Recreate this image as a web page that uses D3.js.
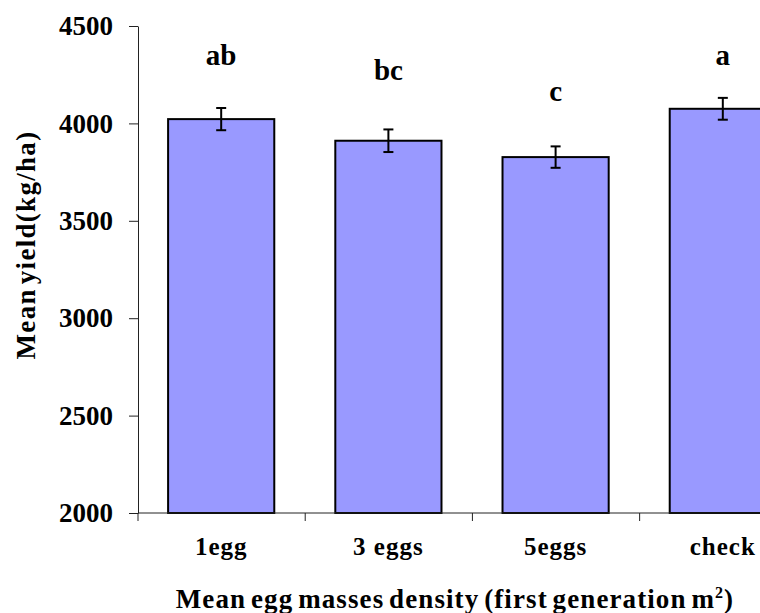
<!DOCTYPE html>
<html>
<head>
<style>
  body { margin: 0; background: #fff; }
  svg { display: block; }
  text { font-family: "Liberation Serif", "Times New Roman", serif; font-weight: bold; fill: #000; }
</style>
</head>
<body>
<svg width="760" height="613"></svg>
<script src="https://d3js.org/d3.v7.min.js"></script>
<script>
let categories = ["1egg", "3 eggs", "5eggs", "check"]
let means = [4022, 3911, 3827, 4075]
let errors = [57, 58, 55, 56]
let letters = ["ab", "bc", "c", "a"]
let letterY = [4300, 4225, 4115, 4300]
let yTicks = [2000, 2500, 3000, 3500, 4000, 4500]

let svg = d3.select("svg")

let x = d3.scaleBand()
    .domain(categories)
    .range([138, 806])
    .paddingInner(0.365)
    .paddingOuter(0.18)

let y = d3.scaleLinear()
    .domain([2000, 4500])
    .range([513, 26])

// bars
svg.append("g").selectAll("rect")
    .data(categories)
    .join("rect")
    .attr("x", d => x(d))
    .attr("y", (d, i) => y(means[i]))
    .attr("width", x.bandwidth())
    .attr("height", (d, i) => y(2000) - y(means[i]))
    .attr("fill", "#9999ff")
    .attr("stroke", "#000")
    .attr("stroke-width", 2)

// error bars
let eb = svg.append("g").attr("stroke", "#000").attr("stroke-width", 2)
categories.forEach((c, i) => {
    let cx = x(c) + x.bandwidth() / 2
    eb.append("line").attr("x1", cx).attr("x2", cx)
        .attr("y1", y(means[i] + errors[i])).attr("y2", y(means[i] - errors[i]))
    eb.append("line").attr("x1", cx - 5).attr("x2", cx + 5)
        .attr("y1", y(means[i] + errors[i])).attr("y2", y(means[i] + errors[i]))
    eb.append("line").attr("x1", cx - 5).attr("x2", cx + 5)
        .attr("y1", y(means[i] - errors[i])).attr("y2", y(means[i] - errors[i]))
})

// letters
svg.append("g").selectAll("text")
    .data(letters)
    .join("text")
    .attr("x", (d, i) => x(categories[i]) + x.bandwidth() / 2)
    .attr("y", (d, i) => y(letterY[i]))
    .attr("text-anchor", "middle")
    .style("font-size", "29px")
    .text(d => d)

// y axis
let yAxis = svg.append("g")
    .attr("transform", "translate(138,0)")
    .call(d3.axisLeft(y).tickValues(yTicks).tickFormat(d3.format("d")).tickSize(9).tickPadding(16).tickSizeOuter(0))
yAxis.selectAll("text").style("font-size", "27px")
yAxis.selectAll("line, path").attr("stroke", "#222")

// x axis
let xAxis = svg.append("g")
    .attr("transform", "translate(0,513)")
    .call(d3.axisBottom(x).tickSize(0))
xAxis.select(".domain").attr("stroke", "#222").attr("d", "M138,0H806")
xAxis.selectAll("text").attr("y", 42).attr("dy", 0).style("font-size", "25px").style("letter-spacing", "1px")

// category separators
svg.append("g").selectAll("line")
    .data(d3.range(categories.length))
    .join("line")
    .attr("x1", i => 138 + i * x.step())
    .attr("x2", i => 138 + i * x.step())
    .attr("y1", 513).attr("y2", 521)
    .attr("stroke", "#222")

// axis titles
svg.append("text")
    .attr("transform", "translate(35,245) rotate(-90)")
    .attr("text-anchor", "middle")
    .style("font-size", "27px")
    .style("letter-spacing", "1.3px")
    .style("word-spacing", "-4px")
    .text("Mean yield(kg/ha)")

let xt = svg.append("text")
    .attr("x", 455)
    .attr("y", 608)
    .attr("text-anchor", "middle")
    .style("font-size", "27px")
    .style("letter-spacing", "1.1px")
    .style("word-spacing", "-3px")
    .text("Mean egg masses density (first generation m")
xt.append("tspan").style("font-size", "16px").attr("dy", -10).text("2")
xt.append("tspan").attr("dy", 10).text(")")
</script>
</body>
</html>
